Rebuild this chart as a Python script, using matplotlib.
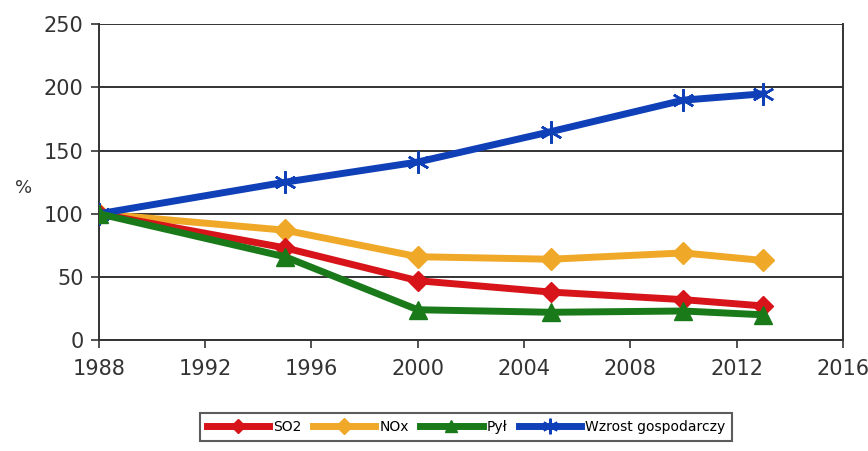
import matplotlib
matplotlib.use("Agg")
from matplotlib import pyplot as plt

# dane
years = [1988, 1995, 2000, 2005, 2010, 2013]
so2 = [100, 73, 47, 38, 32, 27]
nox = [100, 87, 66, 64, 69, 63]
pyl = [100, 66, 24, 22, 23, 20]
wzrost = [100, 125, 141, 165, 190, 195]

x_ticks = [1988, 1992, 1996, 2000, 2004, 2008, 2012, 2016]
y_ticks = [0, 50, 100, 150, 200, 250]

plt.rcParams['font.family'] = ['DejaVu Sans']

fig = plt.figure(figsize=(8.68, 4.51), dpi=100)
ax = fig.add_axes([0.114, 0.246, 0.857, 0.700])

lw = 5
ax.plot(years, so2, color='#d7141a', lw=lw, marker='D', ms=10, label='SO2', zorder=3)
ax.plot(years, nox, color='#f0a828', lw=lw, marker='D', ms=11, label='NOx', zorder=2)
ax.plot(years, pyl, color='#1a7a1a', lw=lw, marker='^', ms=13, label='Pył', zorder=4)
ax.plot(years, wzrost, color='#1040b8', lw=lw, marker=(6, 2, 0), ms=16, mew=1.8,
        label='Wzrost gospodarczy', zorder=3)

ax.set_xlim(1988, 2016)
ax.set_ylim(0, 250)
ax.set_xticks(x_ticks)
ax.set_yticks(y_ticks)
ax.tick_params(labelsize=15, color='#333333', labelcolor='#333333', length=6, width=1.2)
ax.tick_params(axis='x', pad=8)
ax.tick_params(axis='y', pad=5)
ax.grid(axis='y', color='#333333', lw=1.4)
ax.set_axisbelow(True)
ax.spines['top'].set_visible(False)
for s in ['left', 'bottom', 'right']:
    ax.spines[s].set_linewidth(1.4)
    ax.spines[s].set_color('#333333')
ax.set_ylabel('%', rotation=0, fontsize=13, color='#333333', ha='center', va='center')
ax.yaxis.set_label_coords(-0.102, 0.483)

leg = fig.legend(loc='upper center', bbox_to_anchor=(0.537, 0.085), ncol=4,
                 fontsize=10, frameon=True, fancybox=False, edgecolor='#333333',
                 handlelength=4.5, handletextpad=0.3, columnspacing=0.8,
                 borderpad=0.5, borderaxespad=0, markerscale=0.7)
leg.get_frame().set_linewidth(1.5)

fig.savefig('out.png', dpi=100)
